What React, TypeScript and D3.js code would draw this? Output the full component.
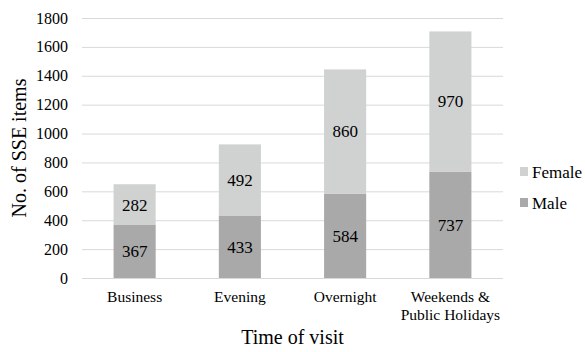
import React, { useEffect, useRef } from "react";
import * as d3 from "d3";

// data
const categories = ["Business", "Evening", "Overnight", "Weekends & Public Holidays"];
const categoryLines = [["Business"], ["Evening"], ["Overnight"], ["Weekends &", "Public Holidays"]];
const maleValues = [367, 433, 584, 737];
const femaleValues = [282, 492, 860, 970];
const seriesNames = ["Female", "Male"];
const yTicks = [0, 200, 400, 600, 800, 1000, 1200, 1400, 1600, 1800];

const colors: Record<string, string> = { Male: "#a9a9a9", Female: "#d0d1d1" };

const width = 585, height = 352;
const margin = { top: 18, right: 82, bottom: 74, left: 82 };

export default function App() {
  const ref = useRef<SVGSVGElement>(null);

  useEffect(() => {
    const svg = d3.select(ref.current);
    svg.selectAll("*").remove();
    const font = "Liberation Serif";

    const innerW = width - margin.left - margin.right;
    const innerH = height - margin.top - margin.bottom;

    const table = categories.map((c, i) => ({ category: c, Male: maleValues[i], Female: femaleValues[i] }));
    const stack = d3.stack<any>().keys(["Male", "Female"])(table);

    const x = d3.scaleBand().domain(categories).range([0, innerW]).paddingInner(0.6).paddingOuter(0.3);
    const y = d3.scaleLinear().domain([0, 1800]).range([innerH, 0]);

    const g = svg.append("g").attr("transform", `translate(${margin.left},${margin.top})`);

    // gridlines
    g.selectAll("line.grid")
      .data(yTicks)
      .enter()
      .append("line")
      .attr("x1", 0)
      .attr("x2", innerW)
      .attr("y1", d => y(d) + 0.5)
      .attr("y2", d => y(d) + 0.5)
      .attr("stroke", "#d9d9d9")
      .attr("stroke-width", 1);

    // y tick labels
    g.selectAll("text.ytick")
      .data(yTicks)
      .enter()
      .append("text")
      .attr("x", -14)
      .attr("y", d => y(d))
      .attr("dy", "0.35em")
      .attr("text-anchor", "end")
      .style("font-family", font)
      .style("font-size", "16px")
      .attr("fill", "#000")
      .text(d => d);

    // bars
    stack.forEach(layer => {
      const key = layer.key;
      g.selectAll(`rect.bar-${key}`)
        .data(layer)
        .enter()
        .append("rect")
        .attr("x", d => x(d.data.category)!)
        .attr("width", x.bandwidth())
        .attr("y", d => y(d[1]))
        .attr("height", d => y(d[0]) - y(d[1]))
        .attr("fill", colors[key]);

      g.selectAll(`text.val-${key}`)
        .data(layer)
        .enter()
        .append("text")
        .attr("x", d => x(d.data.category)! + x.bandwidth() / 2)
        .attr("y", d => (y(d[0]) + y(d[1])) / 2)
        .attr("dy", "0.35em")
        .attr("text-anchor", "middle")
        .style("font-family", font)
        .style("font-size", "17px")
        .attr("fill", "#000")
        .text(d => d[1] - d[0]);
    });

    // x category labels
    categories.forEach((c, i) => {
      const t = g.append("text")
        .attr("x", x(c)! + x.bandwidth() / 2)
        .attr("y", innerH + 24)
        .attr("text-anchor", "middle")
        .style("font-family", font)
        .style("font-size", "15.5px")
        .attr("fill", "#000");
      categoryLines[i].forEach((line, j) => {
        t.append("tspan")
          .attr("x", x(c)! + x.bandwidth() / 2)
          .attr("dy", j === 0 ? 0 : 18)
          .text(line);
      });
    });

    // axis titles
    svg.append("text")
      .attr("x", margin.left + innerW / 2)
      .attr("y", 344)
      .attr("text-anchor", "middle")
      .style("font-family", font)
      .style("font-size", "20px")
      .text("Time of visit");

    svg.append("text")
      .attr("transform", `translate(26,${margin.top + innerH / 2}) rotate(-90)`)
      .attr("text-anchor", "middle")
      .style("font-family", font)
      .style("font-size", "20px")
      .text("No. of SSE items");

    // legend
    const legend = svg.append("g").attr("transform", "translate(520,172)");
    seriesNames.forEach((name, i) => {
      const row = legend.append("g").attr("transform", `translate(0,${i * 31})`);
      row.append("rect").attr("x", 0).attr("y", -5).attr("width", 8).attr("height", 9).attr("fill", colors[name]);
      row.append("text")
        .attr("x", 12)
        .attr("y", 0)
        .attr("dy", "0.35em")
        .style("font-family", font)
        .style("font-size", "17px")
        .text(name);
    });
  }, []);

  return <svg ref={ref} width={width} height={height} style={{ position: "absolute", left: 0, top: 0, background: "#fff" }}></svg>;
}
